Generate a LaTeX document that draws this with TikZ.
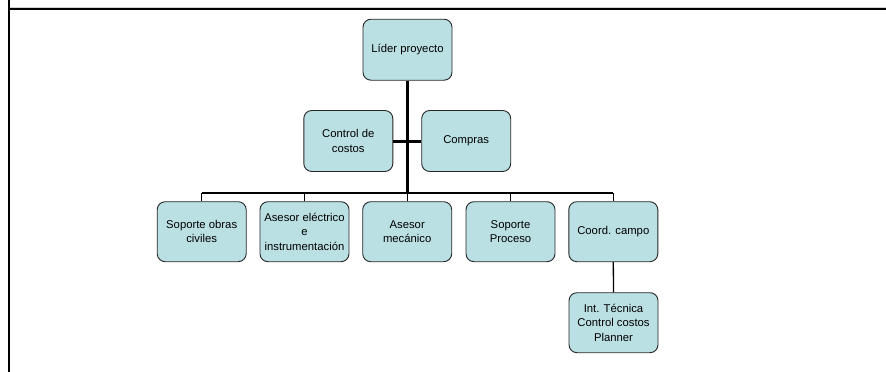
\documentclass[tikz,border=0pt]{standalone}
\usepackage{fontspec}
\setmainfont{Liberation Sans}
\definecolor{boxfill}{HTML}{BBE0E3}
\begin{document}
\begin{tikzpicture}[x=1pt,y=-1pt,
  orgbox/.style={draw=black!85, line width=0.9pt, fill=boxfill,
    rounded corners=8pt, minimum width=89pt, minimum height=60pt,
    align=center, inner sep=2pt,
    font=\fontsize{11.3}{14.2}\selectfont},
  trunk/.style={line width=3pt},
  busline/.style={line width=2.2pt},
  drop/.style={line width=1.3pt},
  frame/.style={line width=2pt}]
\useasboundingbox (0,0) rectangle (886,372);

% page frame
\draw[gray!35, line width=1pt] (10,7) -- (886,7);
\draw[frame] (9,0) -- (9,372);
\draw[frame] (8,9) -- (886,9);

% top levels
\node[orgbox, minimum height=61pt] (lider) at (407.5,49.7) {Líder proyecto};
\node[orgbox, minimum height=61pt] (ctrl) at (348.3,141) {Control de\\costos};
\node[orgbox, minimum height=61pt] (compras) at (466.2,141) {Compras};

% bottom row
\node[orgbox] (civ) at (201.7,231.7) {Soporte obras\\civiles};
\node[orgbox] (elec) at (304.5,231.7) {Asesor eléctrico\\e\\instrumentación};
\node[orgbox] (mec) at (407.2,231.7) {Asesor\\mecánico};
\node[orgbox] (proc) at (510.5,231.7) {Soporte\\Proceso};
\node[orgbox] (coord) at (613.3,231.7) {Coord. campo};
\node[orgbox] (int) at (613.5,322.7) {Int. Técnica\\Control costos\\Planner};

% connectors
\coordinate (bus) at (407.5,193);
\draw[trunk] (lider.south) -- (bus);
\draw[trunk] (ctrl.east) -- (compras.west);
\draw[busline] (civ.north |- bus) -- (coord.north |- bus);
\foreach \n in {civ,elec,mec,proc,coord}
  \draw[drop] (\n.north) -- (\n.north |- bus);
\draw[drop] (coord.south) -- (int.north);
\end{tikzpicture}
\end{document}
